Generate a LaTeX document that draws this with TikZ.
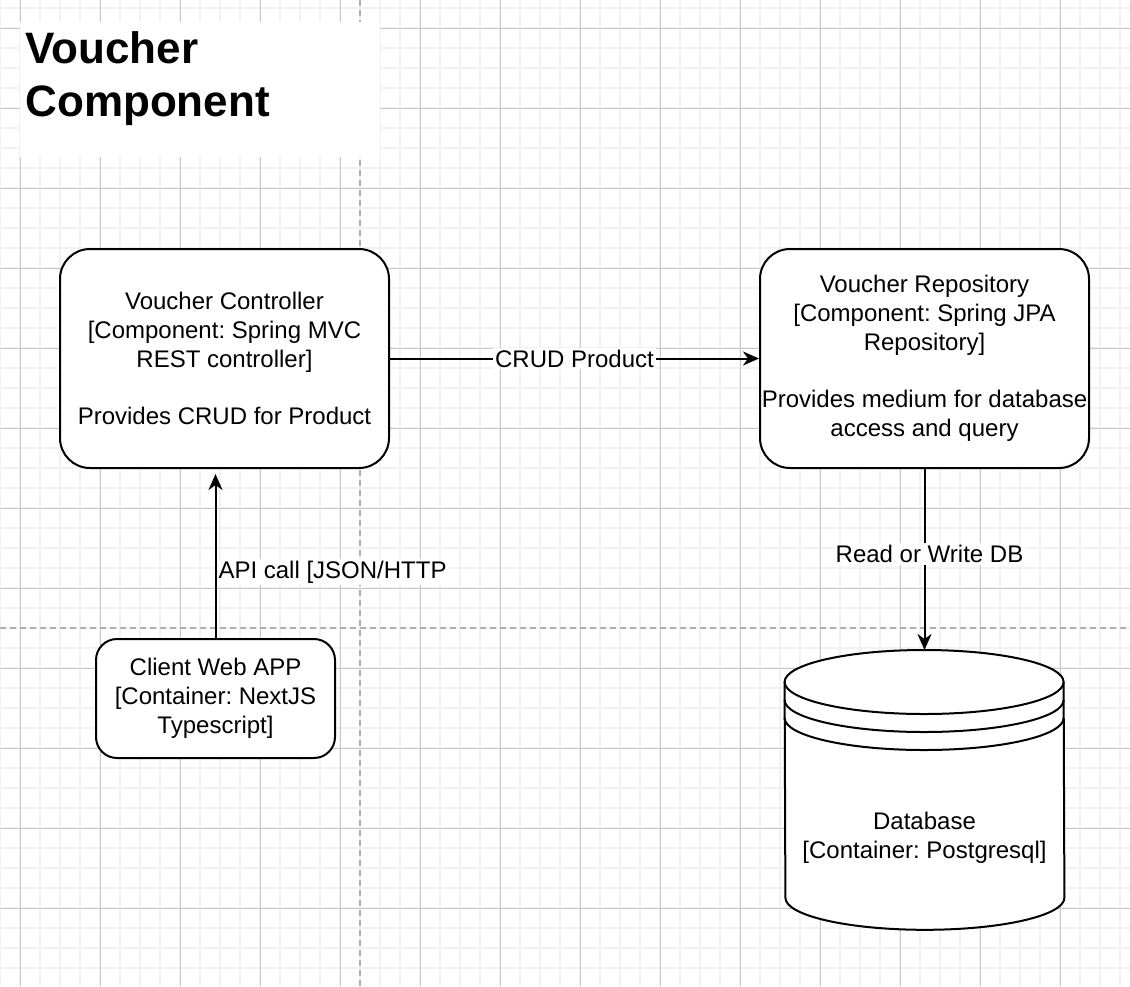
\documentclass[tikz,border=0pt]{standalone}
\usepackage{fontspec}
\setmainfont{Liberation Sans}
\usetikzlibrary{arrows.meta,positioning}
\frenchspacing

\definecolor{gridminor}{RGB}{242,242,242}
\definecolor{gridmajor}{RGB}{200,200,200}
\definecolor{guide}{RGB}{175,175,175}

\begin{document}
\begin{tikzpicture}[
    x=0.5pt, y=-0.5pt,
    every node/.style={align=center,font=\fontsize{12}{14.4}\selectfont},
    minorgrid/.style={draw=gridminor,line width=1pt},
    majorgrid/.style={draw=gridmajor,line width=0.5pt},
    guideline/.style={draw=guide,line width=1pt,dash pattern=on 3pt off 2pt},
    component/.style={rectangle,rounded corners=15pt,draw=black,fill=white,line width=1pt,minimum width=164.5pt,minimum height=109.5pt,inner sep=0pt},
    container/.style={rectangle,rounded corners=10.5pt,draw=black,fill=white,line width=1pt,minimum width=119.5pt,minimum height=59.5pt,inner sep=0pt},
    store/.style={rectangle,minimum width=139.5pt,minimum height=139.5pt,inner sep=0pt},
    dbshape/.style={draw=black,line width=1pt},
    arrow/.style={-{Stealth[length=8pt,width=7pt,inset=2.5pt]},line width=1pt},
    tag/.style={fill=white,inner sep=1pt}
]

% =====================
% BACKGROUND GRID
% =====================
\useasboundingbox (0,0) rectangle (1130,986);
\fill[white] (0,0) rectangle (1130,986);
\foreach \x in {0,20,...,1120} \draw[minorgrid] (\x,0) -- (\x,986);
\foreach \y in {8,28,...,980} \draw[minorgrid] (0,\y) -- (1130,\y);
\foreach \x in {20,100,...,1060} \draw[majorgrid] (\x,0) -- (\x,986);
\foreach \y in {28,108,...,908} \draw[majorgrid] (0,\y) -- (1130,\y);
\draw[guideline] (360,0) -- (360,986);
\draw[guideline] (0,628) -- (1130,628);

% =====================
% TITLE
% =====================
\node[fill=white,inner sep=0pt,minimum width=180pt,minimum height=67.5pt,anchor=north west] (titlebg) at (20,22) {};
\node[anchor=north west,align=left,inner sep=0pt,font=\fontsize{22}{26.4}\bfseries\selectfont] (title) at (25,31) {Voucher\\Component};

% =====================
% COMPONENTS
% =====================
\node[component] (ctrl) at (224.5,358.5) {
Voucher Controller\\
{[}Component: Spring MVC\\
REST controller]\\[14.4pt]
Provides CRUD for Product
};

\node[component,right=184.5pt of ctrl] (repo) {
Voucher Repository\\
{[}Component: Spring JPA\\
Repository]\\[14.4pt]
Provides medium for database\\
access and query
};

\node[container] (client) at (215.5,698.5) {
Client Web APP\\
{[}Container: NextJS\\
Typescript]
};

% =====================
% DATABASE
% =====================
\node[store,below=90.5pt of repo] (db) {};
\draw[dbshape,fill=white] ([yshift=-16pt]db.north west)
    arc[start angle=180,end angle=0,x radius=69.75pt,y radius=16pt]
    -- ([yshift=16pt]db.south east)
    arc[start angle=0,end angle=-180,x radius=69.75pt,y radius=16pt] -- cycle;
\draw[dbshape] ([yshift=-16pt]db.north west) arc[start angle=180,end angle=360,x radius=69.75pt,y radius=16pt];
\draw[dbshape] ([yshift=-25pt]db.north west) arc[start angle=180,end angle=360,x radius=69.75pt,y radius=16pt];
\draw[dbshape] ([yshift=-34pt]db.north west) arc[start angle=180,end angle=360,x radius=69.75pt,y radius=16pt];
\node (dbtext) at ([yshift=-23.75pt]db.center) {
Database\\
{[}Container: Postgresql]
};

% =====================
% CONNECTIONS
% =====================
\draw[arrow] (ctrl) -- node[tag] {CRUD Product} (repo);
\draw[arrow] (repo) -- node[tag,pos=0.47,xshift=2.5pt] {Read or Write DB} (db);
\draw[arrow,shorten >=2.5pt] (client.north) -- node[tag,pos=0.39,anchor=west] {API call [JSON/HTTP} (client.north |- ctrl.south);

\end{tikzpicture}
\end{document}
